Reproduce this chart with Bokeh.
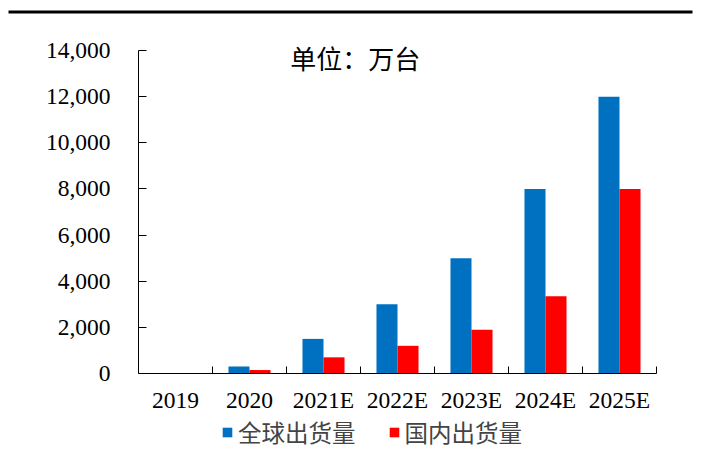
from bokeh.plotting import figure
from bokeh.models import (ColumnDataSource, FixedTicker, NumeralTickFormatter, Range1d,
                          Label, Legend, LegendItem, BoxAnnotation)
from bokeh.embed import file_html
from bokeh.resources import INLINE

years = ["2019", "2020", "2021E", "2022E", "2023E", "2024E", "2025E"]
global_ship = [0, 300, 1500, 3000, 5000, 8000, 12000]
domestic_ship = [0, 150, 700, 1200, 1900, 3350, 8000]
y_ticks = [0, 2000, 4000, 6000, 8000, 10000, 12000, 14000]
y_max = 14000
unit_text = "单位：万台"
series_names = ["全球出货量", "国内出货量"]

BLUE = "#0070C0"
RED = "#FF0000"
SERIF = "Liberation Serif"
CJK = "Noto Sans CJK SC"

# page layout (pixels): canvas and the plotting area inside it
W, H = 705, 449
L, R, T, B = 138, 656, 50, 373

n = len(years)
cat_px = (R - L) / n
y_per_px = y_max / (B - T)


def px2x(px):
    return (px - L) / cat_px


def py2y(py):
    return (B - py) * y_per_px


centers = [i + 0.5 for i in range(n)]
bw = 0.284
src = ColumnDataSource(dict(
    xg=[c - bw / 2 for c in centers],
    xd=[c + bw / 2 for c in centers],
    g=global_ship, d=domestic_ship))

p = figure(width=W, height=H, output_backend="svg", toolbar_location=None,
           x_range=Range1d(px2x(0), px2x(W)), y_range=Range1d(py2y(H), py2y(0)),
           min_border=0, min_border_left=0, min_border_right=0,
           min_border_top=0, min_border_bottom=0)
p.outline_line_color = None
p.xgrid.visible = False
p.ygrid.visible = False
p.background_fill_color = "white"
p.border_fill_color = "white"

rg = p.vbar(x="xg", top="g", width=bw, source=src, fill_color=BLUE, line_color=None)
rd = p.vbar(x="xd", top="d", width=bw, source=src, fill_color=RED, line_color=None)

# y axis
ya = p.yaxis[0]
ya.fixed_location = 0
ya.bounds = (0, y_max)
ya.ticker = FixedTicker(ticks=y_ticks)
ya.formatter = NumeralTickFormatter(format="0,0")
ya.major_tick_in = 8
ya.major_tick_out = 0
ya.minor_tick_line_color = None
ya.major_label_standoff = 28
ya.major_label_text_font = SERIF
ya.major_label_text_font_size = "23.5px"
ya.major_label_text_color = "black"
ya.axis_line_color = "black"
ya.major_tick_line_color = "black"

# x axis
xa = p.xaxis[0]
xa.fixed_location = 0
xa.bounds = (0, n)
xa.ticker = FixedTicker(ticks=centers, minor_ticks=list(range(1, n + 1)))
xa.major_label_overrides = {c: y for c, y in zip(centers, years)}
xa.major_tick_line_color = None
xa.major_tick_in = 0
xa.major_tick_out = 0
xa.minor_tick_in = 7
xa.minor_tick_out = 0
xa.minor_tick_line_color = "black"
xa.major_label_standoff = 13
xa.major_label_text_font = SERIF
xa.major_label_text_font_size = "23.5px"
xa.major_label_text_color = "black"
xa.axis_line_color = "black"

# unit annotation
p.add_layout(Label(x=2.93, y=13700, text=unit_text, text_font=CJK, text_font_size="26px",
                   text_align="center", text_baseline="middle", text_color="black"))

# top rule
p.add_layout(BoxAnnotation(left=px2x(8), right=px2x(692), top=py2y(10), bottom=py2y(13),
                           fill_color="black", fill_alpha=1, line_color=None))

legend = Legend(items=[LegendItem(label=series_names[0], renderers=[rg]),
                       LegendItem(label=series_names[1], renderers=[rd])],
                orientation="horizontal", location=(221, 0),
                label_text_font=CJK, label_text_font_size="23.5px",
                glyph_width=12, glyph_height=12, label_standoff=5, spacing=32,
                padding=0, margin=0, border_line_color=None, background_fill_alpha=0)
p.add_layout(legend, "center")

open("out.html", "w").write(file_html(p, INLINE))
